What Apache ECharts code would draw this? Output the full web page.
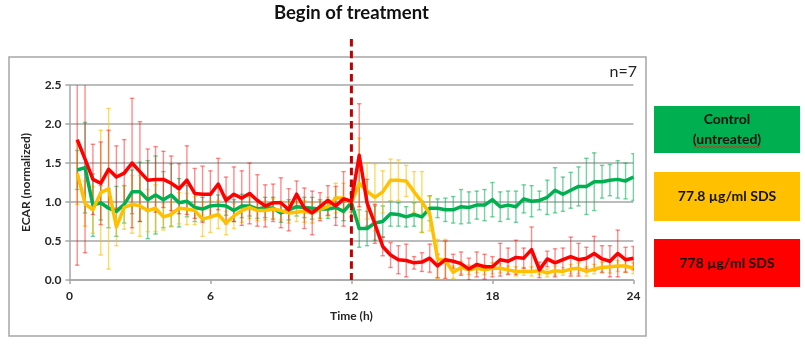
<!DOCTYPE html>
<html>
<head>
<meta charset="utf-8">
<script src="https://cdn.jsdelivr.net/npm/echarts@6/dist/echarts.min.js"></script>
<style>
html,body{margin:0;padding:0;background:#fff;}
#c{width:805px;height:349px;}
</style>
</head>
<body>
<div id="c"></div>
<script>
// Time points in minutes (every 20 min)
const minutes = [20,40,60,80,100,120,140,160,180,200,220,240,260,280,300,320,340,360,380,400,420,440,460,480,500,520,540,560,580,600,620,640,660,680,700,720,740,760,780,800,820,840,860,880,900,920,940,960,980,1000,1020,1040,1060,1080,1100,1120,1140,1160,1180,1200,1220,1240,1260,1280,1300,1320,1340,1360,1380,1400,1420,1440];

const controlVals = [1.41,1.44,0.96,0.99,0.92,0.88,0.97,1.13,1.13,1.03,1.09,1.03,1.09,0.99,1.01,0.93,0.91,0.95,0.96,0.95,0.89,0.95,0.95,0.91,0.93,0.92,0.86,0.90,0.94,0.93,0.92,0.91,0.91,0.93,0.88,0.99,0.66,0.66,0.73,0.75,0.85,0.84,0.81,0.84,0.81,0.92,0.92,0.90,0.90,0.94,0.93,0.96,0.96,1.03,0.94,0.96,0.94,1.04,1.01,1.02,1.06,1.15,1.10,1.15,1.20,1.20,1.26,1.26,1.28,1.29,1.27,1.32];
const controlErr  = [0.25,0.58,0.40,0.22,0.25,0.32,0.24,0.28,0.38,0.50,0.50,0.36,0.40,0.31,0.20,0.18,0.15,0.14,0.13,0.12,0.14,0.15,0.13,0.12,0.13,0.14,0.12,0.13,0.12,0.13,0.14,0.12,0.12,0.13,0.12,0.12,0.24,0.22,0.22,0.20,0.16,0.15,0.13,0.15,0.20,0.16,0.12,0.15,0.17,0.22,0.20,0.18,0.20,0.22,0.19,0.18,0.20,0.18,0.20,0.12,0.22,0.29,0.22,0.23,0.25,0.36,0.37,0.21,0.20,0.24,0.23,0.30];

const lowVals = [1.37,0.98,0.90,1.12,1.17,0.68,0.93,0.97,0.95,0.89,0.92,0.81,0.84,0.92,0.91,0.89,0.78,0.81,0.84,0.73,0.82,0.89,0.93,0.89,0.89,0.91,0.89,0.86,0.87,0.88,0.86,0.91,0.94,1.05,1.05,0.99,1.24,1.14,1.06,1.13,1.28,1.28,1.27,1.13,1.00,0.85,0.27,0.25,0.10,0.16,0.13,0.15,0.13,0.15,0.15,0.13,0.11,0.11,0.11,0.12,0.09,0.12,0.11,0.14,0.15,0.11,0.14,0.16,0.17,0.18,0.18,0.15];
const lowErr  = [0.40,0.29,0.30,0.80,1.03,0.24,0.28,0.37,0.39,0.27,0.30,0.17,0.16,0.20,0.20,0.18,0.22,0.20,0.18,0.15,0.16,0.15,0.14,0.13,0.12,0.13,0.12,0.13,0.12,0.14,0.13,0.12,0.12,0.19,0.19,0.12,0.58,0.36,0.43,0.27,0.27,0.26,0.20,0.26,0.39,0.22,0.25,0.27,0.08,0.08,0.06,0.06,0.06,0.07,0.06,0.05,0.06,0.05,0.06,0.05,0.05,0.06,0.05,0.06,0.07,0.06,0.06,0.07,0.08,0.07,0.08,0.07];

const highVals = [1.80,1.55,1.29,1.24,1.42,1.32,1.37,1.50,1.39,1.28,1.29,1.29,1.24,1.17,1.28,1.11,1.10,1.10,1.23,1.02,1.10,1.05,1.11,1.02,0.95,0.99,0.99,0.90,1.10,0.92,0.86,0.94,1.02,0.95,1.04,1.01,1.60,0.99,0.72,0.43,0.32,0.26,0.25,0.22,0.23,0.28,0.18,0.26,0.24,0.21,0.14,0.20,0.17,0.17,0.26,0.24,0.29,0.28,0.39,0.13,0.27,0.22,0.26,0.30,0.26,0.28,0.34,0.27,0.24,0.34,0.26,0.28];
const highErr  = [1.61,1.20,0.45,0.53,0.50,0.40,0.43,0.83,0.64,0.40,0.42,0.36,0.35,0.32,0.44,0.32,0.36,0.30,0.33,0.30,0.35,0.35,0.39,0.33,0.27,0.24,0.32,0.27,0.17,0.26,0.28,0.18,0.19,0.25,0.35,0.20,0.66,0.30,0.25,0.12,0.16,0.18,0.21,0.08,0.12,0.18,0.15,0.24,0.09,0.15,0.14,0.16,0.16,0.13,0.21,0.17,0.22,0.13,0.29,0.10,0.10,0.18,0.15,0.25,0.21,0.14,0.22,0.17,0.20,0.30,0.16,0.15];

const seriesNames = ['Control\n(untreated)', '77.8 µg/ml SDS', '778 µg/ml SDS'];
const xTicks = [0, 6, 12, 18, 24];
const yTicks = ['0.0', '0.5', '1.0', '1.5', '2.0', '2.5'];
const treatmentTime = 12;

const FONT = 'Lato, "Open Sans", "Noto Sans", sans-serif';
const GREEN = '#00b050', YELLOW = '#ffc000', RED = '#ff0000';

const hours = minutes.map(m => m / 60);

function lineSeries(name, vals, color) {
  return {
    name: name, type: 'line', z: 5, symbol: 'none', smooth: false,
    data: vals.map((v, i) => [hours[i], v]),
    lineStyle: { color: color, width: 3.5, join: 'round' },
    itemStyle: { color: color },
    animation: false
  };
}
function errSeries(name, vals, errs, color) {
  return {
    name: name + ' err', type: 'custom', z: 2, clip: true, animation: false,
    data: vals.map((v, i) => [hours[i], v - errs[i], v + errs[i]]),
    encode: { x: 0, y: [1, 2] },
    renderItem: function (params, api) {
      const x = api.value(0);
      const lo = api.coord([x, api.value(1)]);
      const hi = api.coord([x, api.value(2)]);
      const w = 2.2;
      const st = { stroke: color, lineWidth: 1.4 };
      return {
        type: 'group',
        children: [
          { type: 'line', shape: { x1: lo[0], y1: lo[1], x2: hi[0], y2: hi[1] }, style: st },
          { type: 'line', shape: { x1: lo[0] - w, y1: lo[1], x2: lo[0] + w, y2: lo[1] }, style: st },
          { type: 'line', shape: { x1: hi[0] - w, y1: hi[1], x2: hi[0] + w, y2: hi[1] }, style: st }
        ]
      };
    }
  };
}

const chart = echarts.init(document.getElementById('c'), null, { renderer: 'canvas' });
const axisLabelStyle = { fontFamily: FONT, fontWeight: 'bold', fontSize: 12, color: '#262626' };

chart.setOption({
  animation: false,
  backgroundColor: '#fff',
  grid: { left: 69.4, right: 171.6, top: 85, bottom: 69, containLabel: false },
  xAxis: {
    type: 'value', min: 0, max: 24, interval: 6,
    name: 'Time (h)', nameLocation: 'middle', nameGap: 30,
    nameTextStyle: { fontFamily: FONT, fontWeight: 'bold', fontSize: 12, color: '#262626' },
    axisLine: { show: true, lineStyle: { color: '#a6a6a6', width: 1.5 } },
    axisTick: { show: true, length: 4, lineStyle: { color: '#a6a6a6', width: 1.5 } },
    axisLabel: Object.assign({ margin: 10, formatter: v => xTicks.indexOf(v) >= 0 ? String(v) : '' }, axisLabelStyle),
    splitLine: { show: false }
  },
  yAxis: {
    type: 'value', min: 0, max: 2.5, interval: 0.5,
    name: 'ECAR (normalized)', nameLocation: 'middle', nameGap: 37,
    nameTextStyle: { fontFamily: FONT, fontWeight: 'bold', fontSize: 12, color: '#262626' },
    axisLine: { show: true, lineStyle: { color: '#a6a6a6', width: 1.5 } },
    axisTick: { show: true, length: 4, lineStyle: { color: '#a6a6a6', width: 1.5 } },
    axisLabel: Object.assign({ margin: 8, formatter: v => yTicks[Math.round(v / 0.5)] }, axisLabelStyle),
    splitLine: { show: true, lineStyle: { color: '#a6a6a6', width: 1.5 } }
  },
  series: [
    errSeries(seriesNames[0], controlVals, controlErr, 'rgba(0,176,80,0.55)'),
    errSeries(seriesNames[1], lowVals, lowErr, 'rgba(255,192,0,0.6)'),
    errSeries(seriesNames[2], highVals, highErr, 'rgba(255,0,0,0.45)'),
    lineSeries(seriesNames[0], controlVals, GREEN),
    lineSeries(seriesNames[1], lowVals, YELLOW),
    lineSeries(seriesNames[2], highVals, RED)
  ]
});

const base = chart.convertToPixel({ gridIndex: 0 }, [treatmentTime, 0]);
const boxX = 654, boxW = 146;
function legendBox(y, h, color, text) {
  return [
    { type: 'rect', shape: { x: boxX, y: y, width: boxW, height: h }, style: { fill: color }, z: 10 },
    { type: 'text', x: boxX + boxW / 2, y: y + h / 2, z: 11,
      style: { text: text, fontFamily: FONT, fontWeight: 'bold', fontSize: 14, fill: '#111',
               align: 'center', verticalAlign: 'middle', lineHeight: 20 } }
  ];
}
const squiggle = [];
for (let x = 694; x <= 760; x += 2) { squiggle.push([x, 147 + ((x / 2) % 2 === 0 ? -1 : 1)]); }

chart.setOption({
  graphic: [
    { type: 'rect', shape: { x: 9, y: 57, width: 637, height: 279 }, style: { fill: 'none', stroke: '#a6a6a6', lineWidth: 1.5 }, z: 0, silent: true },
    { type: 'line', shape: { x1: base[0], y1: 39, x2: base[0], y2: base[1] }, z: 20,
      style: { stroke: '#c00000', lineWidth: 3, lineDash: [7.5, 4.2] } },
    { type: 'text', x: base[0], y: 13, z: 20,
      style: { text: 'Begin of treatment', fontFamily: FONT, fontWeight: 'bold', fontSize: 18.5, fill: '#111', align: 'center', verticalAlign: 'middle' } },
    { type: 'text', x: 637, y: 72, z: 20,
      style: { text: 'n=7', fontFamily: FONT, fontSize: 16, fill: '#222', align: 'right', verticalAlign: 'middle' } },
    ...legendBox(106, 47, GREEN, 'Control\n(untreated)'),
    ...legendBox(172, 49, YELLOW, '77.8 µg/ml SDS'),
    ...legendBox(239, 48, RED, '778 µg/ml SDS'),
    { type: 'polyline', shape: { points: squiggle }, style: { stroke: '#e22', lineWidth: 1, fill: 'none' }, z: 12 }
  ]
});
</script>
</body>
</html>
